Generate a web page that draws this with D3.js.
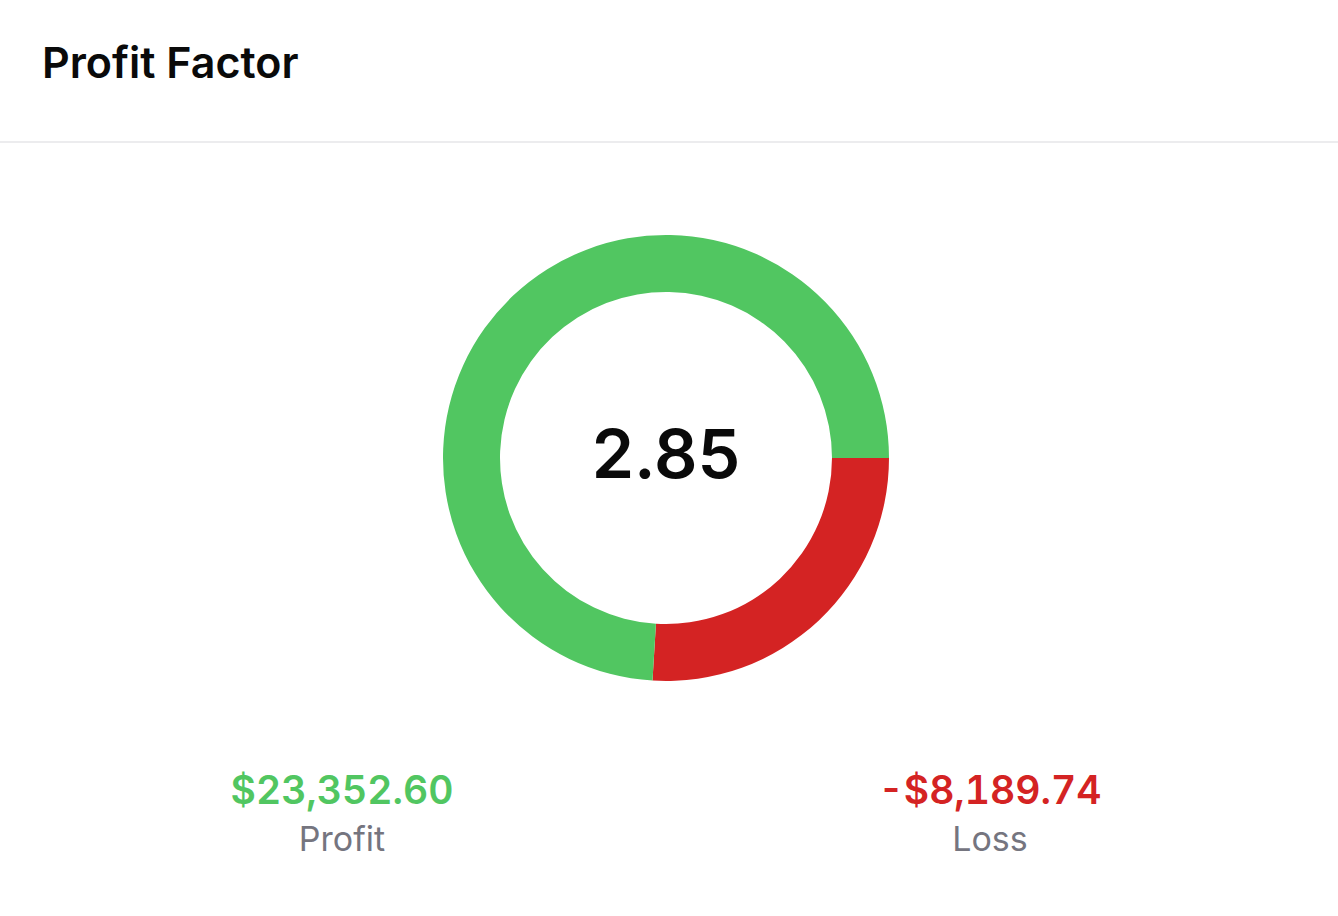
<!DOCTYPE html>
<html><head><meta charset="utf-8">
<script src="https://cdn.jsdelivr.net/npm/d3@7"></script>
<style>
html,body{margin:0;padding:0;background:#fff;}
svg{display:block;font-family:Inter,"Noto Sans",sans-serif;}
.num{font-variant-numeric:tabular-nums;font-feature-settings:"tnum" 1;}
</style></head>
<body>
<svg id="chart" width="1338" height="916"></svg>
<script>
const title = "Profit Factor";
const categories = ["Loss", "Profit"];
const values = [8189.74, 23352.60];
const valueLabels = ["-$8,189.74", "$23,352.60"];
const colors = ["#d42323", "#51c661"];
const centerLabel = "2.85";

const W = 1338, H = 916;
const svg = d3.select("#chart");

svg.append("text").attr("x", 42).attr("y", 78)
  .attr("font-size", 43).attr("font-weight", 600).attr("fill", "#0a0a0a")
  .text(title);
svg.append("line").attr("x1", 0).attr("x2", W).attr("y1", 142).attr("y2", 142)
  .attr("stroke", "#ececee").attr("stroke-width", 2);

const cx = 666, cy = 458, rOuter = 223, rInner = 166;
const pie = d3.pie().sort(null).startAngle(Math.PI / 2).endAngle(Math.PI / 2 + 2 * Math.PI);
const arc = d3.arc().innerRadius(rInner).outerRadius(rOuter);
const g = svg.append("g").attr("transform", `translate(${cx},${cy})`);
g.selectAll("path").data(pie(values)).join("path")
  .attr("d", arc).attr("fill", (d, i) => colors[i]);

g.append("text").attr("text-anchor", "middle").attr("y", 20)
  .attr("font-size", 68).attr("font-weight", 600).attr("fill", "#0a0a0a")
  .text(centerLabel);

// legend: Profit left, Loss right
const x = d3.scalePoint().domain(["Profit", "Loss"]).range([342, 990]);
const items = categories.map((c, i) => ({c, v: valueLabels[i], color: colors[i]}));
const lg = svg.selectAll("g.item").data(items).join("g").attr("class", "item")
  .attr("transform", d => `translate(${x(d.c)},0)`);
lg.append("text").attr("class", "num").attr("text-anchor", "middle").attr("y", 804)
  .attr("font-size", 39).attr("font-weight", 600).attr("fill", d => d.color)
  .text(d => d.v);
lg.append("text").attr("text-anchor", "middle").attr("y", 851)
  .attr("font-size", 34).attr("font-weight", 400).attr("fill", "#75757f")
  .text(d => d.c);
</script>
</body></html>
